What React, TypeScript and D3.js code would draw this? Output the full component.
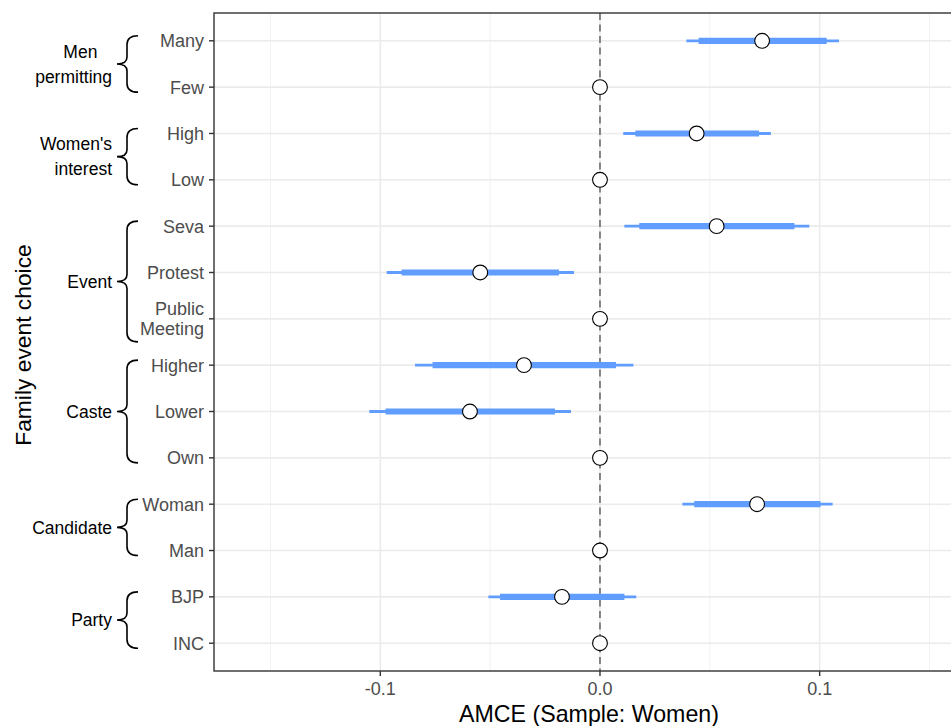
import React from "react";
import * as d3 from "d3";

const levels = ["Many", "Few", "High", "Low", "Seva", "Protest", "Public\nMeeting", "Higher", "Lower", "Own", "Woman", "Man", "BJP", "INC"];
const estimates = [0.0738, 0, 0.044, 0, 0.0531, -0.0545, 0, -0.0346, -0.0592, 0, 0.0715, 0, -0.0173, 0];
const lower95: (number | null)[] = [0.0393, null, 0.0106, null, 0.0111, -0.0971, null, -0.0842, -0.105, null, 0.0375, null, -0.0508, null];
const upper95: (number | null)[] = [0.1088, null, 0.0778, null, 0.0953, -0.0118, null, 0.0152, -0.0132, null, 0.1059, null, 0.0165, null];
const lower90: (number | null)[] = [0.0449, null, 0.0161, null, 0.0179, -0.0903, null, -0.0762, -0.0976, null, 0.0429, null, -0.0455, null];
const upper90: (number | null)[] = [0.1032, null, 0.0724, null, 0.0885, -0.0187, null, 0.0073, -0.0205, null, 0.1004, null, 0.0111, null];

const groupLabels = [["Men   ", "permitting"], ["Women's", "interest"], ["Event"], ["Caste"], ["Candidate"], ["Party"]];
const groupMembers = [["Many", "Few"], ["High", "Low"], ["Seva", "Protest", "Public\nMeeting"], ["Higher", "Lower", "Own"], ["Woman", "Man"], ["BJP", "INC"]];

const xMajor = [-0.1, 0, 0.1];
const xMinor = [-0.15, -0.05, 0.05, 0.15];
const xTickLabels = ["-0.1", "0.0", "0.1"];

const xTitle = "AMCE (Sample: Women)";
const yTitle = "Family event choice";

const W = 951, H = 726;
const panel = { left: 214, top: 13, right: 964, bottom: 671 };
const FONT = "'Liberation Sans', Arial, sans-serif";
const BLUE = "#619CFF";

export default function App() {
  const x = d3.scaleLinear().domain([-0.1757, 0.1657]).range([panel.left, panel.right]);
  const y = d3.scalePoint<string>().domain(levels).range([panel.top, panel.bottom]).padding(0.6);

  const bracePath = (top: number, bottom: number) => {
    const tipX = 117, spineX = 127, endX = 138;
    const mid = (top + bottom) / 2;
    const p = d3.path();
    p.moveTo(endX, top);
    p.quadraticCurveTo(spineX, top, spineX, top + 9);
    p.lineTo(spineX, mid - 7);
    p.quadraticCurveTo(spineX, mid, tipX, mid);
    p.quadraticCurveTo(spineX, mid, spineX, mid + 7);
    p.lineTo(spineX, bottom - 9);
    p.quadraticCurveTo(spineX, bottom, endX, bottom);
    return p.toString();
  };

  return (
    <svg width={W} height={H} style={{ position: "absolute", left: 0, top: 0, display: "block" }} fontFamily={FONT}>
      <rect x={0} y={0} width={W} height={H} fill="#fff" />
      {xMinor.map((v) => (
        <line key={"mi" + v} x1={x(v)} x2={x(v)} y1={panel.top} y2={panel.bottom} stroke="#F2F2F2" strokeWidth={1} />
      ))}
      {xMajor.map((v) => (
        <line key={"ma" + v} x1={x(v)} x2={x(v)} y1={panel.top} y2={panel.bottom} stroke="#EBEBEB" strokeWidth={1.6} />
      ))}
      {levels.map((l) => (
        <line key={"gy" + l} x1={panel.left} x2={panel.right} y1={y(l)} y2={y(l)} stroke="#EBEBEB" strokeWidth={1.6} />
      ))}
      <line x1={x(0)} x2={x(0)} y1={panel.top} y2={panel.bottom} stroke="#7A7A7A" strokeWidth={1.8} strokeDasharray="7,4.5" />
      {levels.map((l, i) =>
        lower95[i] == null ? null : (
          <g key={"eb" + l}>
            <line x1={x(lower95[i]!)} x2={x(upper95[i]!)} y1={y(l)} y2={y(l)} stroke={BLUE} strokeWidth={2.8} />
            <line x1={x(lower90[i]!)} x2={x(upper90[i]!)} y1={y(l)} y2={y(l)} stroke={BLUE} strokeWidth={6.2} />
          </g>
        )
      )}
      {levels.map((l, i) => (
        <circle key={"pt" + l} cx={x(estimates[i])} cy={y(l)} r={7.4} fill="#fff" stroke="#000" strokeWidth={1.1} />
      ))}
      <rect x={panel.left} y={panel.top} width={panel.right - panel.left} height={panel.bottom - panel.top} fill="none" stroke="#333" strokeWidth={1.4} />
      {levels.map((l) => {
        const lines = l.split("\n");
        const yy = y(l)!;
        const lh = 19.5;
        const first = yy + 6.4 - ((lines.length - 1) * lh) / 2;
        return (
          <g key={"yt" + l}>
            <line x1={panel.left - 5} x2={panel.left} y1={yy} y2={yy} stroke="#333" strokeWidth={1.4} />
            <text textAnchor="end" fontSize={18} fill="#4D4D4D">
              {lines.map((s, j) => (
                <tspan key={j} x={204} y={first + j * lh}>{s}</tspan>
              ))}
            </text>
          </g>
        );
      })}
      {xMajor.map((v, i) => (
        <g key={"xt" + v}>
          <line x1={x(v)} x2={x(v)} y1={panel.bottom} y2={panel.bottom + 5} stroke="#333" strokeWidth={1.4} />
          <text x={x(v)} y={panel.bottom + 24} textAnchor="middle" fontSize={18} fill="#4D4D4D">{xTickLabels[i]}</text>
        </g>
      ))}
      {groupMembers.map((mem, gi) => {
        const lastLines = mem[mem.length - 1].split("\n").length;
        const top = y(mem[0])! - 5;
        const bottom = y(mem[mem.length - 1])! + 5 + (lastLines - 1) * 18;
        const mid = (top + bottom) / 2;
        const lbl = groupLabels[gi];
        const lh = 25;
        const first = mid + 6.3 - ((lbl.length - 1) * lh) / 2;
        return (
          <g key={"gr" + gi}>
            <path d={bracePath(top, bottom)} fill="none" stroke="#000" strokeWidth={1.6} />
            <text textAnchor="end" fontSize={17.5} fill="#000" style={{ whiteSpace: "pre" }}>
              {lbl.map((s, j) => (
                <tspan key={j} x={112} y={first + j * lh}>{s}</tspan>
              ))}
            </text>
          </g>
        );
      })}
      <text x={589} y={722} textAnchor="middle" fontSize={23.2} fill="#000">{xTitle}</text>
      <text transform={`translate(31, ${(panel.top + panel.bottom) / 2 + 3}) rotate(-90)`} textAnchor="middle" fontSize={22.8} fill="#000">{yTitle}</text>
    </svg>
  );
}
